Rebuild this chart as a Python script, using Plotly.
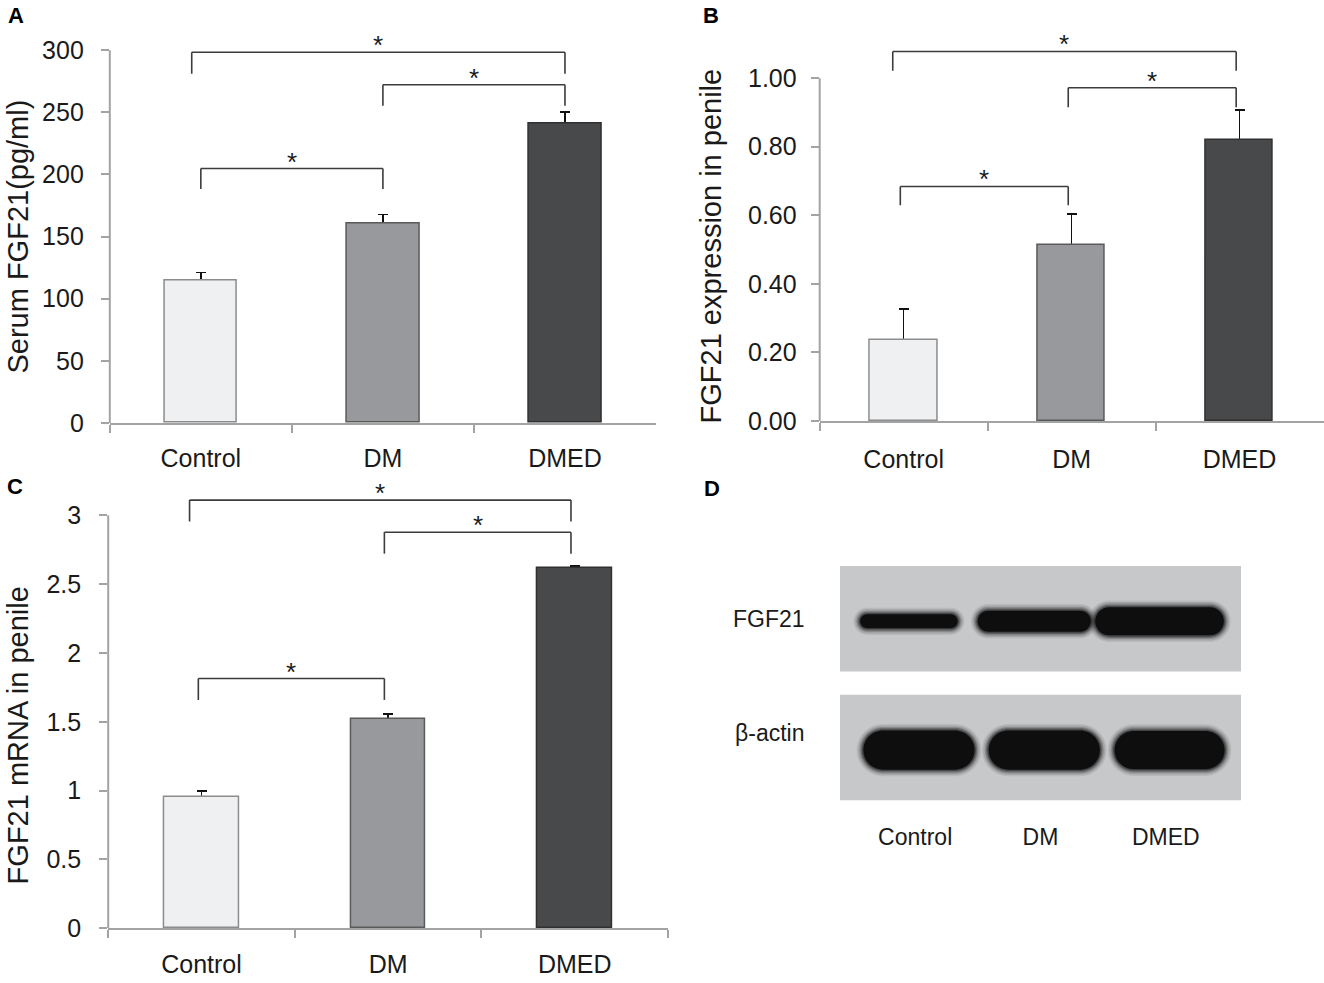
import plotly.graph_objects as go

# ---- data ----
groups = ["Control", "DM", "DMED"]

serum_fgf21 = [114.8, 160.3, 241.3]          # pg/ml
serum_fgf21_err = [6.1, 7.4, 8.9]

penile_protein = [0.235, 0.512, 0.820]       # relative expression
penile_protein_err = [0.092, 0.091, 0.087]

penile_mrna = [0.955, 1.521, 2.616]          # fold change
penile_mrna_err = [0.043, 0.036, 0.014]

blot_rows = ["FGF21", "β-actin"]
fgf21_band = [0.52, 0.76, 1.0]               # relative band density
actin_band = [1.0, 1.0, 0.98]

# ---- look ----
W, H = 1324, 983
FONT = "Liberation Sans, Arial, sans-serif"
TXT = "#1a1a1a"
GREY = "#a3a3a3"
BRK = "#3c3c3c"
bar_fill = ["#eff0f2", "#97999c", "#48494b"]
bar_edge = ["#8c8c8c", "#5a5a5a", "#303030"]


def px(x):
    return x / W


def py(y):
    return 1 - y / H


panels = [
    dict(n="", vals=serum_fgf21, err=serum_fgf21_err, xdom=(109.8, 656), y0=429, scale=1.26,
         yr=(0, 320), top=300, tickvals=[0, 50, 100, 150, 200, 250, 300], fmt="{:g}",
         ystand=12, xstand=12,
         title="Serum FGF21(pg/ml)", tpos=(18, 240), letter="A", lpos=(16, 16),
         brackets=[(-0.05, 2, 298.4, 281.0), (1, 2, 272.2, 255.3), (0, 1, 204.8, 188.3)]),
    dict(n="2", vals=penile_protein, err=penile_protein_err, xdom=(819.7, 1323.5), y0=427, scale=347.7,
         yr=(0, 1.12), top=1.0, tickvals=[0, 0.2, 0.4, 0.6, 0.8, 1.0], fmt="{:.2f}",
         ystand=9, xstand=15,
         title="FGF21 expression in penile", tpos=(711, 250), letter="B", lpos=(711, 16),
         brackets=[(-0.065, 1.98, 1.078, 1.022), (0.98, 1.98, 0.972, 0.915), (-0.02, 0.98, 0.684, 0.629)]),
    dict(n="3", vals=penile_mrna, err=penile_mrna_err, xdom=(108.2, 668), y0=941.7, scale=139.67,
         yr=(0, 3.22), top=3, tickvals=[0, 0.5, 1, 1.5, 2, 2.5, 3], fmt="{:g}",
         ystand=13, xstand=13,
         title="FGF21 mRNA in penile", tpos=(18, 746), letter="C", lpos=(15, 494),
         brackets=[(-0.064, 1.98, 3.110, 2.955), (0.98, 1.98, 2.877, 2.721), (-0.017, 0.98, 1.814, 1.659)]),
]

fig = go.Figure()
shapes = []
annotations = []
layout = {}

for p in panels:
    n = p["n"]
    xa, ya = "x" + n, "y" + n
    # error bars first, real bars drawn over them so only the upper half shows
    fig.add_trace(go.Bar(
        x=groups, y=p["vals"], xaxis=xa, yaxis=ya, width=0.4,
        marker=dict(color="rgba(0,0,0,0)", line=dict(width=0)),
        error_y=dict(type="data", array=p["err"], color="#111111", thickness=1.5, width=5),
        showlegend=False, hoverinfo="skip"))
    fig.add_trace(go.Bar(
        x=groups, y=p["vals"], xaxis=xa, yaxis=ya, width=0.4,
        marker=dict(color=bar_fill, line=dict(color=bar_edge, width=1.5)),
        showlegend=False))

    ytop = p["y0"] - (p["yr"][1] - p["yr"][0]) * p["scale"]
    layout["xaxis" + n] = dict(
        domain=[px(p["xdom"][0]), px(p["xdom"][1])], anchor=ya, type="category",
        categoryorder="array", categoryarray=groups, range=[-0.5, 2.5],
        tickson="boundaries", ticks="outside", ticklen=8, tickwidth=2, tickcolor=GREY,
        showline=True, linecolor=GREY, linewidth=2, showgrid=False, zeroline=False,
        tickfont=dict(family=FONT, size=25, color=TXT), ticklabelstandoff=p["xstand"],
        fixedrange=True)
    layout["yaxis" + n] = dict(
        domain=[py(p["y0"]), py(ytop)], anchor=xa, range=list(p["yr"]),
        tickvals=p["tickvals"], ticktext=[p["fmt"].format(v) for v in p["tickvals"]],
        ticks="outside", ticklen=8, tickwidth=2, tickcolor=GREY, showline=False,
        showgrid=False, zeroline=False, ticklabelstandoff=p["ystand"],
        tickfont=dict(family=FONT, size=25, color=TXT), fixedrange=True)

    # y axis line only up to the last tick
    shapes.append(dict(type="line", xref=xa + " domain", yref=ya, x0=0, x1=0, y0=0, y1=p["top"],
                       line=dict(color=GREY, width=2)))

    for (b0, b1, yt, yb) in p["brackets"]:
        for seg in [(b0, yb, b0, yt), (b0, yt, b1, yt), (b1, yt, b1, yb)]:
            shapes.append(dict(type="line", xref=xa, yref=ya, x0=seg[0], y0=seg[1], x1=seg[2], y1=seg[3],
                               line=dict(color=BRK, width=1.6)))
        annotations.append(dict(x=(b0 + b1) / 2, y=yt, xref=xa, yref=ya, text="*", showarrow=False,
                                xanchor="center", yanchor="bottom", yshift=-10,
                                font=dict(family=FONT, size=26, color=TXT)))

    annotations.append(dict(x=px(p["tpos"][0]), y=py(p["tpos"][1]), xref="paper", yref="paper",
                            text=p["title"], textangle=-90, showarrow=False,
                            xanchor="center", yanchor="middle",
                            font=dict(family=FONT, size=29, color=TXT)))
    annotations.append(dict(x=px(p["lpos"][0]), y=py(p["lpos"][1]), xref="paper", yref="paper",
                            text="<b>" + p["letter"] + "</b>", showarrow=False,
                            xanchor="center", yanchor="middle",
                            font=dict(family=FONT, size=22, color="#000000")))

# ---- panel D: western blot ----
bx0, bx1 = 840, 1241
xr4 = (-0.6, 2.6)
yr4 = (-0.42, 1.42)
xs4 = (bx1 - bx0) / (xr4[1] - xr4[0])       # px per lane unit
ys4 = 130.7                                  # px per row unit
yc4 = 693
dom_top = yc4 - (yr4[1] - yr4[0]) * ys4 / 2
dom_bot = yc4 + (yr4[1] - yr4[0]) * ys4 / 2

layout["xaxis4"] = dict(domain=[px(bx0), px(bx1)], anchor="y4", range=list(xr4),
                        tickvals=[0, 1, 2], ticktext=groups, ticks="", showline=False,
                        showgrid=False, zeroline=False, ticklabelstandoff=19,
                        tickfont=dict(family=FONT, size=23, color=TXT), fixedrange=True)
layout["yaxis4"] = dict(domain=[py(dom_bot), py(dom_top)], anchor="x4", range=list(yr4),
                        showticklabels=False, ticks="", showline=False, showgrid=False,
                        zeroline=False, fixedrange=True)
fig.add_trace(go.Scatter(x=[0, 1, 2], y=[0, 0, 0], xaxis="x4", yaxis="y4", mode="markers",
                         marker=dict(opacity=0), showlegend=False, hoverinfo="skip"))


def stadium(xc, yc, w, h, grow_px=0):
    gx, gy = grow_px / xs4, grow_px / ys4
    w, h = w + 2 * gx, h + 2 * gy
    ry = h / 2
    rx = min(ry * ys4 / xs4, w / 2)
    x0, x1 = xc - w / 2, xc + w / 2
    y0, y1 = yc - ry, yc + ry
    k = 0.5523
    return (f"M{x0 + rx},{y0} L{x1 - rx},{y0} "
            f"C{x1 - rx + k * rx},{y0} {x1},{yc - k * ry} {x1},{yc} "
            f"C{x1},{yc + k * ry} {x1 - rx + k * rx},{y1} {x1 - rx},{y1} "
            f"L{x0 + rx},{y1} "
            f"C{x0 + rx - k * rx},{y1} {x0},{yc + k * ry} {x0},{yc} "
            f"C{x0},{yc - k * ry} {x0 + rx - k * rx},{y0} {x0 + rx},{y0} Z")


# soft band edges: stacked, growing, fading outlines
soft = [(6, 0.08), (4.5, 0.12), (3, 0.18), (1.8, 0.26), (0.6, 0.4), (-0.8, 1.0)]
strip_half = 0.41
for row, dens, wmax, hmax, dx in [(1, fgf21_band, 1.04, 0.23, -0.05), (0, actin_band, 0.90, 0.315, 0.03)]:
    shapes.append(dict(type="rect", xref="x4", yref="y4", x0=xr4[0], x1=xr4[1],
                       y0=row - strip_half, y1=row + strip_half, fillcolor="#c7c8ca",
                       line=dict(width=0), layer="below"))
    for i, d in enumerate(dens):
        w = wmax * (0.5 + 0.5 * d)
        h = hmax * d
        for grow, op in soft:
            shapes.append(dict(type="path", xref="x4", yref="y4",
                               path=stadium(i + dx, row - 0.02, w, h, grow),
                               fillcolor="#0e0e0e", opacity=op, line=dict(width=0)))

for row, name, dy in [(1, blot_rows[0], 0.0), (0, blot_rows[1], 0.11)]:
    annotations.append(dict(x=px(769), y=row + dy, xref="paper", yref="y4", text=name,
                            showarrow=False, xanchor="center", yanchor="middle",
                            font=dict(family=FONT, size=23, color=TXT)))
annotations.append(dict(x=px(712), y=py(496), xref="paper", yref="paper", text="<b>D</b>",
                        showarrow=False, xanchor="center", yanchor="middle",
                        font=dict(family=FONT, size=22, color="#000000")))

fig.update_layout(
    width=W, height=H, autosize=False,
    margin=dict(l=0, r=0, t=0, b=0),
    paper_bgcolor="white", plot_bgcolor="white",
    barmode="overlay", bargap=0,
    shapes=shapes, annotations=annotations,
    **layout)

# the page body has a default 8px margin; drop it so the figure fills the window
fig.write_html("out.html", config={"displayModeBar": False},
               post_script="document.body.style.margin='0';")
